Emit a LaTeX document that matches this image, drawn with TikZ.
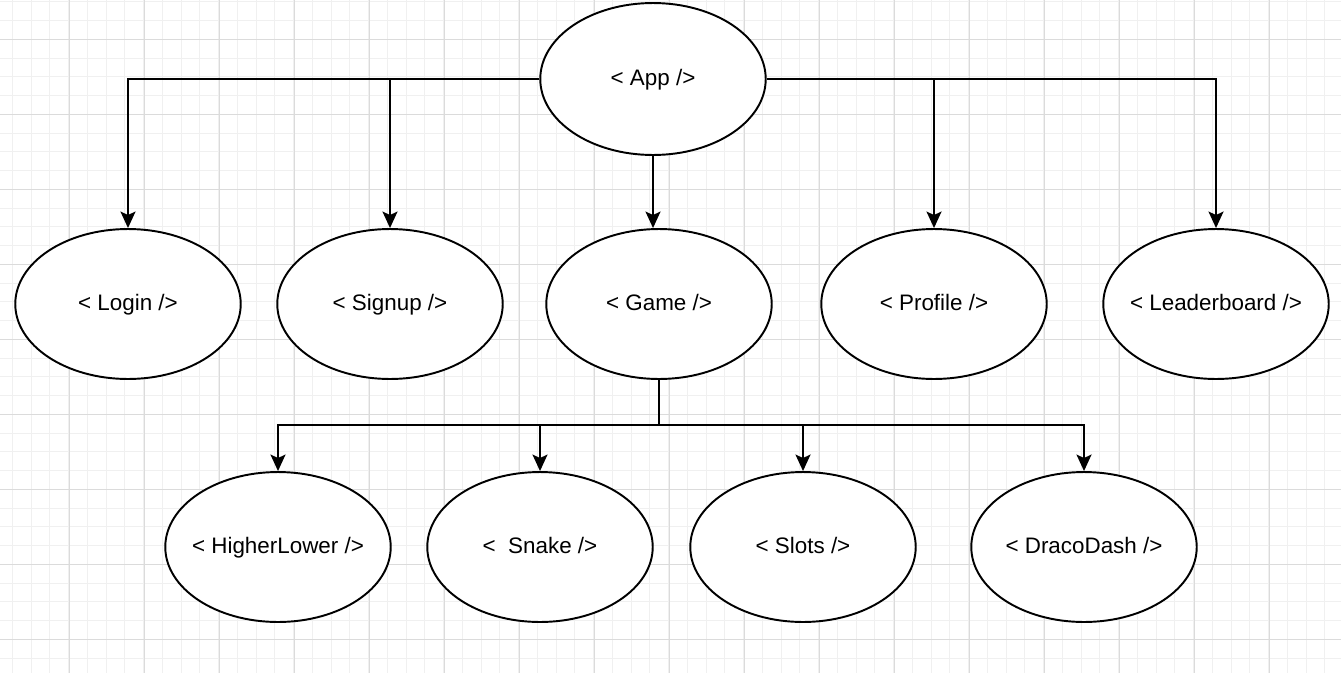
\documentclass[tikz,border=0pt]{standalone}
\usepackage{fontspec}
\setmainfont{Liberation Sans}
\usepackage{tikz}
\usetikzlibrary{arrows.meta,shapes.geometric}

\begin{document}
\begin{tikzpicture}[x=0.02cm, y=-0.02cm,
		comp/.style={draw, ellipse, line width=1.1pt, fill=white, inner sep=0pt, minimum width=4.51cm, minimum height=3cm, text height=0.716em, text depth=0pt, font=\fontsize{12.75}{15}\selectfont},
		conn/.style={line width=1.1pt, -{Stealth[length=0.33cm, width=0.3cm, inset=0.07cm]}}]
			%%%%% START %%%%%
			
			\useasboundingbox[fill=white] (0, 0) rectangle (1341, 673);
			
			% grid
			\foreach \k in {0,...,71} \draw[line width=0.4pt, color=black!6] (12.3+18.75*\k, 0) -- (12.3+18.75*\k, 673);
			\foreach \k in {0,...,35} \draw[line width=0.4pt, color=black!6] (0, 1.8+18.75*\k) -- (1341, 1.8+18.75*\k);
			\foreach \k in {0,...,17} \draw[line width=0.5pt, color=black!14] (-5.7+75*\k, 0) -- (-5.7+75*\k, 673);
			\foreach \k in {0,...,8} \draw[line width=0.5pt, color=black!14] (0, 39.3+75*\k) -- (1341, 39.3+75*\k);
			
			% components
			\node[comp, minimum height=3.04cm] (app) at (653, 79) {\makebox[0pt]{< App />}};
			
			\node[comp] (login) at (128, 304) {\makebox[0pt]{< Login />}};
			\node[comp] (signup) at (390, 304) {\makebox[0pt]{< Signup />}};
			\node[comp] (game) at (659, 304) {\makebox[0pt]{< Game />}};
			\node[comp] (profile) at (934, 304) {\makebox[0pt]{< Profile />}};
			\node[comp] (leader) at (1216, 304) {\makebox[0pt]{< Leaderboard />}};
			
			\node[comp] (higher) at (278, 547) {\makebox[0pt]{< HigherLower />}};
			\node[comp] (snake) at (540, 547) {\makebox[0pt]{<~~Snake />}};
			\node[comp] (slots) at (803, 547) {\makebox[0pt]{< Slots />}};
			\node[comp] (draco) at (1084, 547) {\makebox[0pt]{< DracoDash />}};
			
			% App -> pages
			\draw[conn] (app.west) -| (login.north);
			\draw[conn] (app.west) -| (signup.north);
			\draw[conn] (app.south) -- (app.south |- game.north);
			\draw[conn] (app.east) -| (profile.north);
			\draw[conn] (app.east) -| (leader.north);
			
			% Game -> games
			\coordinate (bus) at (659, 425);
			\draw[line width=1.1pt] (game.south) -- (bus);
			\draw[conn] (bus) -| (higher.north);
			\draw[conn] (bus) -| (snake.north);
			\draw[conn] (bus) -| (slots.north);
			\draw[conn] (bus) -| (draco.north);
			
			%%%%% END %%%%%
		\end{tikzpicture}
\end{document}
